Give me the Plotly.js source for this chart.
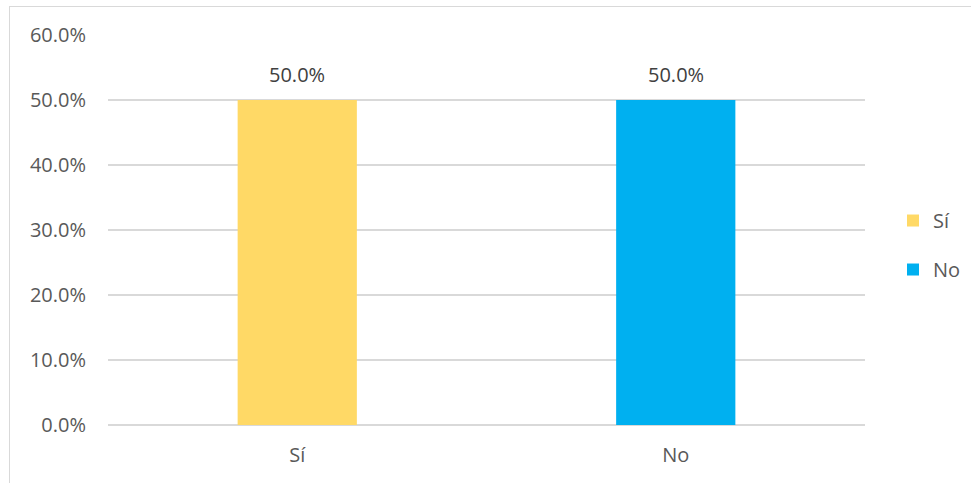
<!DOCTYPE html>
<html>
<head>
<meta charset="utf-8">
<script src="https://cdn.plot.ly/plotly-3.0.1.min.js"></script>
<style>
html,body{margin:0;padding:0;background:#fff;}
#wrap{position:absolute;left:0;top:0;width:971px;height:483px;overflow:hidden;}
#frame{position:absolute;left:9px;top:6px;width:980px;height:500px;border-left:1px solid #d9d9d9;border-top:1px solid #d9d9d9;pointer-events:none;}
#chart{position:absolute;left:0;top:0;width:971px;height:483px;}
</style>
</head>
<body>
<div id="wrap">
<div id="chart"></div>
<div id="frame"></div>
</div>
<script>
const categories = ['Sí', 'No'];
const values = [0.5, 0.5];
const colors = ['#FFD966', '#00B0F0'];
const tickVals = [0, 0.1, 0.2, 0.3, 0.4, 0.5, 0.6];

const FONT = '"Open Sans", "DejaVu Sans", sans-serif';

const traces = categories.map((c, i) => ({
  type: 'bar',
  name: c,
  x: [c],
  y: [values[i]],
  width: 0.315,
  marker: {color: colors[i]},
  legendgroup: 'g' + i,
  hoverinfo: 'skip'
}));

const annotations = categories.map((c, i) => ({
  x: c,
  y: values[i],
  xref: 'x',
  yref: 'y',
  text: (values[i] * 100).toFixed(1) + '%',
  showarrow: false,
  yanchor: 'bottom',
  yshift: 10,
  font: {family: FONT, size: 20, color: '#404040'}
}));

const layout = {
  width: 971,
  height: 483,
  margin: {l: 108, r: 106, t: 35, b: 58, autoexpand: false},
  paper_bgcolor: '#ffffff',
  plot_bgcolor: '#ffffff',
  barmode: 'overlay',
  showlegend: true,
  font: {family: FONT, size: 20, color: '#595959'},
  annotations: annotations,
  xaxis: {
    type: 'category',
    categoryarray: categories,
    showgrid: false,
    showline: false,
    ticks: '',
    ticklabelstandoff: 16,
    tickfont: {family: FONT, size: 20, color: '#595959'},
    fixedrange: true
  },
  yaxis: {
    range: [0, 0.6],
    tickvals: tickVals,
    tickformat: '.1%',
    showgrid: true,
    gridcolor: '#d9d9d9',
    gridwidth: 1.3,
    zeroline: true,
    zerolinecolor: '#d9d9d9',
    zerolinewidth: 1.3,
    showline: false,
    ticks: '',
    ticklabelstandoff: 21,
    tickfont: {family: FONT, size: 20, color: '#595959'},
    fixedrange: true
  },
  legend: {
    x: 1.037,
    xanchor: 'left',
    y: 0.4615,
    yanchor: 'middle',
    traceorder: 'grouped',
    tracegroupgap: 20,
    itemwidth: 30,
    font: {family: FONT, size: 20, color: '#595959'},
    bgcolor: 'rgba(0,0,0,0)'
  }
};

Plotly.newPlot('chart', traces, layout, {displayModeBar: false, staticPlot: true});
</script>
</body>
</html>
